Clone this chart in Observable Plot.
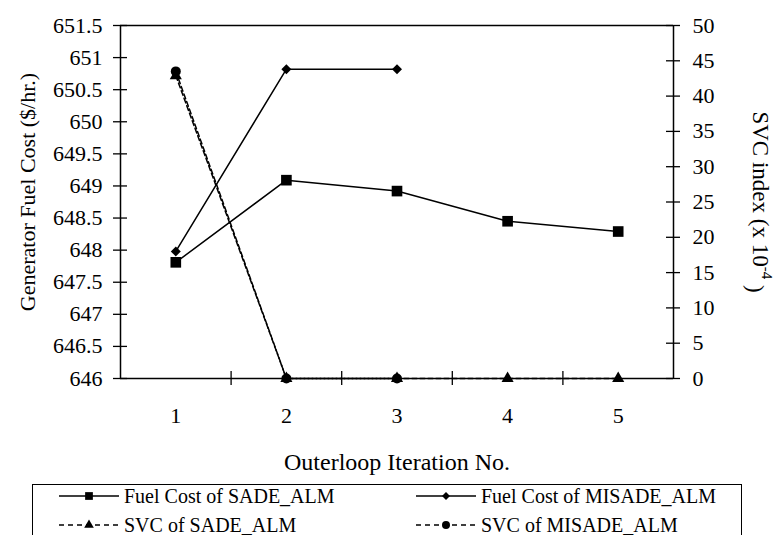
<!DOCTYPE html>
<html><head><meta charset="utf-8">
<script src="https://cdn.jsdelivr.net/npm/d3@7"></script>
<script src="https://cdn.jsdelivr.net/npm/@observablehq/plot@0.6"></script>
<style>
html,body{margin:0;padding:0;background:#fff;}
body{font-family:"Liberation Serif",Tinos,"Times New Roman",Times,"DejaVu Serif",serif;color:#000;}
#wrap{position:relative;width:776px;height:535px;overflow:hidden;background:#fff;}
#chart{position:absolute;left:0;top:0;}
#chart svg, #chart svg text{font-family:"Liberation Serif",Tinos,"Times New Roman",Times,"DejaVu Serif",serif !important;}
#legend{position:absolute;left:32px;top:484px;width:710px;height:70px;border:1.5px solid #000;box-sizing:border-box;background:#fff;}
.item{position:absolute;display:flex;align-items:center;font-size:20px;line-height:20px;white-space:nowrap;}
.item svg{margin-right:3px;}
</style></head><body>
<div id="wrap"><div id="chart"></div><div id="legend"></div></div>
<script>
// ---- data ----
const iterations = [1, 2, 3, 4, 5];
const fuelSADE = [647.81, 649.09, 648.92, 648.45, 648.29];
const fuelMISADE = [647.98, 650.82, 650.82];
const svcSADE = [42.9, 0, 0, 0, 0];
const svcMISADE = [43.5, 0, 0];
const leftTicks = [646, 646.5, 647, 647.5, 648, 648.5, 649, 649.5, 650, 650.5, 651, 651.5];
const rightTicks = [0, 5, 10, 15, 20, 25, 30, 35, 40, 45, 50];
const seriesNames = ["Fuel Cost of SADE_ALM", "Fuel Cost of MISADE_ALM", "SVC of SADE_ALM", "SVC of MISADE_ALM"];
const xTitle = "Outerloop Iteration No.";
const yTitle = "Generator Fuel Cost ($/hr.)";
const y2Title = "SVC index (x 10-4 )";

// ---- dual axis mapping (right axis 0..50 onto left 646..651.5) ----
const yMin = 646, yMax = 651.5, svcMax = 50;
const svcToY = v => yMin + v * (yMax - yMin) / svcMax;
const xBounds = [0.5, 1.5, 2.5, 3.5, 4.5, 5.5];
const FONT = '"Liberation Serif",Tinos,"Times New Roman",Times,"DejaVu Serif",serif';

const W = 776, H = 478;
const chart = Plot.plot({
  width: W, height: H,
  marginLeft: 120, marginRight: 103, marginTop: 25, marginBottom: 100,
  style: {fontFamily: FONT, fontSize: "22px", background: "#fff", color: "#000"},
  x: {type: "linear", domain: [0.5, 5.5], axis: null},
  y: {domain: [yMin, yMax], axis: null},
  marks: [
    // frame
    Plot.ruleY([yMin, yMax], {stroke: "#000", strokeWidth: 1.5}),
    Plot.ruleX([0.5, 5.5], {stroke: "#000", strokeWidth: 1.5}),
    // crossing ticks
    Plot.ruleY(leftTicks, {y: d => d, x1: 0.5, x2: 0.5, insetLeft: -7, insetRight: -7, stroke: "#000", strokeWidth: 1.3}),
    Plot.ruleY(rightTicks, {y: d => svcToY(d), x1: 5.5, x2: 5.5, insetLeft: -7, insetRight: -7, stroke: "#000", strokeWidth: 1.3}),
    Plot.ruleX(xBounds.slice(1, -1), {x: d => d, y1: yMin, y2: yMin, insetTop: -7, insetBottom: -7, stroke: "#000", strokeWidth: 1.3}),
    // tick labels
    Plot.text(leftTicks, {x: 0.5, y: d => d, text: d => String(d), textAnchor: "end", dx: -18, fontSize: 22, fill: "#000"}),
    Plot.text(rightTicks, {x: 5.5, y: d => svcToY(d), text: d => String(d), textAnchor: "start", dx: 19, fontSize: 22, fill: "#000"}),
    Plot.text(iterations, {x: d => d, y: yMin, text: d => String(d), dy: 37, fontSize: 22, fill: "#000"}),
    // titles
    Plot.text([xTitle], {frameAnchor: "bottom", textAnchor: "middle", lineAnchor: "middle", dy: 84, fontSize: 24, fill: "#000"}),
    Plot.text([yTitle], {frameAnchor: "left", textAnchor: "middle", lineAnchor: "middle", rotate: -90, dx: -93, dy: -10, fontSize: 22, fill: "#000"}),
    Plot.text([y2Title], {frameAnchor: "right", textAnchor: "middle", lineAnchor: "middle", rotate: 90, dx: 87, dy: 0, fontSize: 23, fill: "#000"}),
    // series
    Plot.line(svcSADE, {x: (d, i) => iterations[i], y: d => svcToY(d), stroke: "#000", strokeWidth: 1.5, strokeDasharray: "5,3"}),
    Plot.line(svcMISADE, {x: (d, i) => iterations[i], y: d => svcToY(d), stroke: "#000", strokeWidth: 1.5, strokeDasharray: "5,3"}),
    Plot.line(fuelSADE, {x: (d, i) => iterations[i], y: d => d, stroke: "#000", strokeWidth: 1.5}),
    Plot.line(fuelMISADE, {x: (d, i) => iterations[i], y: d => d, stroke: "#000", strokeWidth: 1.5}),
    Plot.dot(svcSADE, {x: (d, i) => iterations[i], y: d => svcToY(d), symbol: "triangle", r: 4.5, fill: "#000"}),
    Plot.dot(svcMISADE, {x: (d, i) => iterations[i], y: d => svcToY(d), symbol: "circle", r: 5, fill: "#000"}),
    Plot.dot(fuelSADE, {x: (d, i) => iterations[i], y: d => d, symbol: "square", r: 6, fill: "#000"}),
    Plot.dot(fuelMISADE, {x: (d, i) => iterations[i], y: d => d, symbol: "diamond2", r: 4.5, fill: "#000"})
  ]
});
document.getElementById("chart").appendChild(chart);

// superscript in right title
d3.select(chart).selectAll("text").each(function() {
  if (this.textContent === y2Title) {
    const t = d3.select(this);
    t.text(null);
    t.append("tspan").text("SVC index (x 10");
    t.append("tspan").attr("font-size", 15).attr("dy", "-0.6em").text("-4");
    t.append("tspan").attr("dy", "0.6em").text(" )");
  }
});

// ---- legend ----
const legendItems = [
  {name: seriesNames[0], symbol: d3.symbolSquare, area: 60, dash: null, left: 26, top: 1},
  {name: seriesNames[1], symbol: d3.symbolDiamond2, area: 40, dash: null, left: 383, top: 1},
  {name: seriesNames[2], symbol: d3.symbolTriangle, area: 40, dash: "5,4", left: 26, top: 30},
  {name: seriesNames[3], symbol: d3.symbolCircle, area: 50, dash: "5,4", left: 383, top: 30}
];
const legend = d3.select("#legend");
for (const it of legendItems) {
  const div = legend.append("div").attr("class", "item").style("left", it.left + "px").style("top", it.top + "px");
  const s = div.append("svg").attr("width", 62).attr("height", 20);
  s.append("line").attr("x1", 0).attr("x2", 60).attr("y1", 10).attr("y2", 10)
    .attr("stroke", "#000").attr("stroke-width", 1.5).attr("stroke-dasharray", it.dash);
  s.append("path").attr("d", d3.symbol(it.symbol, it.area)()).attr("transform", "translate(30,10)").attr("fill", "#000");
  div.append("span").text(it.name);
}
</script>
</body></html>
